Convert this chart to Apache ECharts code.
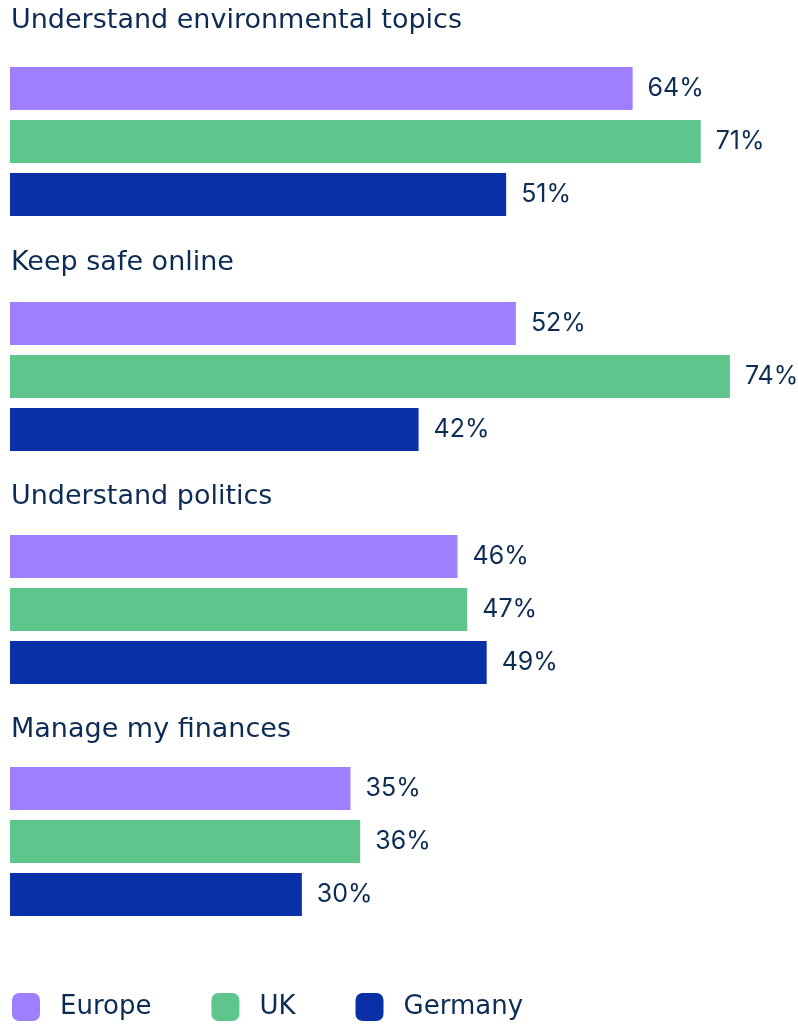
<!DOCTYPE html>
<html>
<head>
<meta charset="utf-8">
<script src="https://cdn.jsdelivr.net/npm/echarts@6/dist/echarts.min.js"></script>
<style>
  html, body { margin: 0; padding: 0; background: #fff; }
  #main { width: 798px; height: 1024px; }
</style>
</head>
<body>
<div id="main"></div>
<script>
// data
var groups = ['Understand environmental topics', 'Keep safe online', 'Understand politics', 'Manage my finances']
var seriesNames = ['Europe', 'UK', 'Germany']
var europe = [64, 52, 46, 35]
var uk = [71, 74, 47, 36]
var germany = [51, 42, 49, 30]

var colors = ['#a07ffe', '#5ec58c', '#0a30a8']
var textColor = '#0d2c54'
var titleFont = '"DejaVu Sans", sans-serif'
var valueFont = 'Inter, "Open Sans", sans-serif'

// layout
var barTops = [67, 302, 535, 767]
var titleTops = [2, 244, 478, 711]
var bandHeight = 149

var chart = echarts.init(document.getElementById('main'))

var grids = [], xAxes = [], yAxes = [], titles = [], series = []
var values = [europe, uk, germany]

groups.forEach(function (g, i) {
    grids.push({ left: 10, right: 0, top: barTops[i], height: bandHeight })
    xAxes.push({ type: 'value', gridIndex: i, min: 0, max: 81, show: false })
    yAxes.push({ type: 'category', gridIndex: i, data: [g], show: false })
    titles.push({
        text: g, left: 6, top: titleTops[i],
        textStyle: { fontFamily: titleFont, fontSize: 27, fontWeight: 'normal', color: textColor }
    })
    seriesNames.forEach(function (name, k) {
        series.push({
            name: name,
            type: 'bar',
            xAxisIndex: i,
            yAxisIndex: i,
            data: [values[k][i]],
            barWidth: 43,
            barGap: '23.3%',
            itemStyle: { color: colors[k] },
            label: {
                show: true,
                position: 'right',
                distance: 15,
                formatter: '{c}%',
                fontFamily: valueFont,
                fontSize: 25,
                color: textColor
            }
        })
    })
})

chart.setOption({
    animation: false,
    title: titles,
    grid: grids,
    xAxis: xAxes,
    yAxis: yAxes,
    legend: {
        data: seriesNames,
        left: 7,
        top: 988,
        itemWidth: 28,
        itemHeight: 28,
        itemGap: 60,
        icon: 'roundRect',
        textStyle: { fontFamily: titleFont, fontSize: 26, fontWeight: 'normal', color: textColor, padding: [0, 0, 0, 15] }
    },
    series: series
})
</script>
</body>
</html>
